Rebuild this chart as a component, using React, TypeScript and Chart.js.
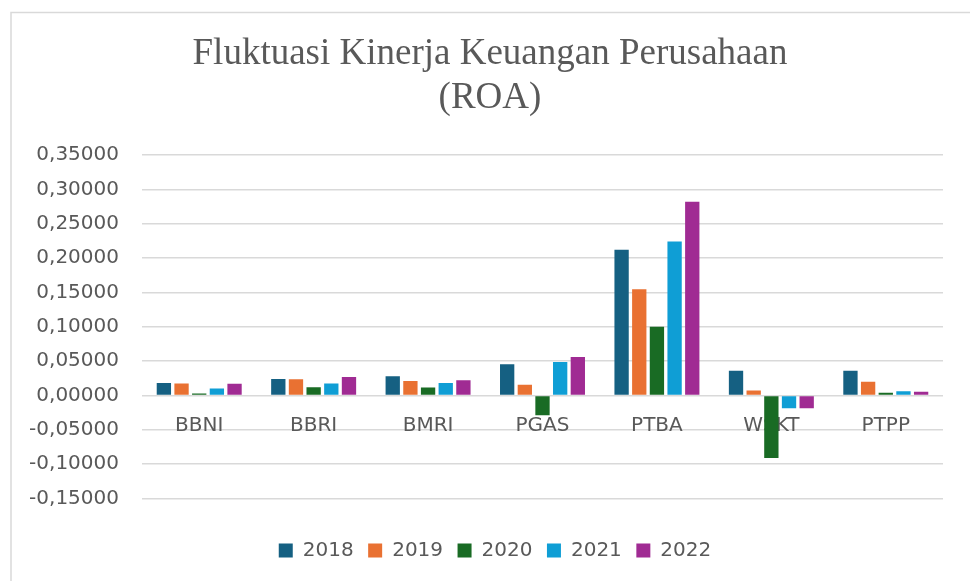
import React, { useEffect, useRef } from "react";
import { Chart, registerables } from "chart.js";

Chart.register(...registerables);

const categories = ["BBNI", "BBRI", "BMRI", "PGAS", "PTBA", "WSKT", "PTPP"];
const seriesNames = ["2018", "2019", "2020", "2021", "2022"];
const roa2018 = [0.018, 0.024, 0.028, 0.0455, 0.212, 0.036, 0.036];
const roa2019 = [0.0175, 0.0235, 0.021, 0.0155, 0.1545, 0.0073, 0.020];
const roa2020 = [0.003, 0.012, 0.0117, -0.029, 0.100, -0.091, 0.004];
const roa2021 = [0.010, 0.0175, 0.018, 0.0487, 0.224, -0.0185, 0.006];
const roa2022 = [0.017, 0.027, 0.022, 0.0559, 0.282, -0.0185, 0.0055];
const seriesColors = ["#156082", "#E97132", "#196B24", "#0F9ED5", "#A02B93"];
const yMin = -0.15;
const yMax = 0.35;
const yStep = 0.05;

const textColor = "#595959";
const gridColor = "#d9d9d9";
const sansFont = "'DejaVu Sans', sans-serif";

const framePlugin = {
  id: "frame",
  afterLayout(chart: any) {
    if (chart.legend) {
      chart.legend.left += 5;
      chart.legend.right += 5;
    }
  },
  beforeDraw(chart: any) {
    const ctx = chart.ctx;
    ctx.save();
    ctx.fillStyle = "#ffffff";
    ctx.fillRect(0, 0, chart.width, chart.height);
    ctx.strokeStyle = gridColor;
    ctx.lineWidth = 1.5;
    ctx.beginPath();
    ctx.moveTo(11, chart.height);
    ctx.lineTo(11, 12.5);
    ctx.lineTo(chart.width, 12.5);
    ctx.stroke();
    ctx.restore();
  },
};

export default function App() {
  const ref = useRef<HTMLCanvasElement | null>(null);

  useEffect(() => {
    if (!ref.current) return;
    const values = [roa2018, roa2019, roa2020, roa2021, roa2022];
    const chart = new Chart(ref.current, {
      type: "bar",
      data: {
        labels: categories,
        datasets: seriesNames.map((name, i) => ({
          label: name,
          data: values[i],
          xAxisID: "x",
          yAxisID: "y",
          backgroundColor: seriesColors[i],
          borderWidth: 0,
          categoryPercentage: 0.772,
          barPercentage: 0.81,
        })),
      },
      plugins: [framePlugin],
      options: {
        animation: false,
        responsive: false,
        maintainAspectRatio: false,
        layout: { padding: { top: 20, left: 10, right: 0, bottom: 10.5 } },
        plugins: {
          title: {
            display: true,
            text: ["Fluktuasi Kinerja Keuangan Perusahaan", "(ROA)"],
            color: textColor,
            font: { family: "'Liberation Serif', serif", size: 37, weight: "normal", lineHeight: 1.2 },
            padding: { top: 11.8, bottom: 34.4 },
          },
          legend: {
            position: "bottom",
            labels: {
              color: textColor,
              font: { family: sansFont, size: 20 },
              boxWidth: 14,
              boxHeight: 14,
              padding: 14.5,
            },
          },
          tooltip: { enabled: false },
        },
        scales: {
          y: {
            type: "linear",
            position: "left",
            min: yMin,
            max: yMax,
            grid: { color: gridColor, lineWidth: 1.5, drawTicks: false },
            border: { display: false },
            ticks: {
              stepSize: yStep,
              color: textColor,
              font: { family: sansFont, size: 20 },
              padding: 23,
              callback: (v: any) => {
                const n = Math.abs(Number(v)) < 1e-9 ? 0 : Number(v);
                return n.toFixed(5).replace(".", ",");
              },
            },
            afterFit(scale: any) {
              scale.width = 132;
            },
          },
          x: {
            type: "category",
            position: { y: 0 } as any,
            grid: { display: false },
            border: { display: false },
            ticks: {
              color: textColor,
              font: { family: sansFont, size: 20 },
              padding: 10,
              maxRotation: 0,
            },
            afterFit(scale: any) {
              scale.height = 0;
            },
          },
          xpad: {
            type: "linear",
            position: "bottom",
            display: true,
            grid: { display: false },
            border: { display: false },
            ticks: { display: false },
            afterFit(scale: any) {
              scale.height = 27.5;
            },
          },
          ypad: {
            type: "linear",
            position: "right",
            display: true,
            grid: { display: false },
            border: { display: false },
            ticks: { display: false },
            afterFit(scale: any) {
              scale.width = 27;
            },
          },
        },
      } as any,
    });
    return () => chart.destroy();
  }, []);

  return (
    <div style={{ position: "absolute", left: 0, top: 0, width: 970, height: 581 }}>
      <canvas ref={ref} width={970} height={581} style={{ display: "block", width: 970, height: 581 }} />
    </div>
  );
}
